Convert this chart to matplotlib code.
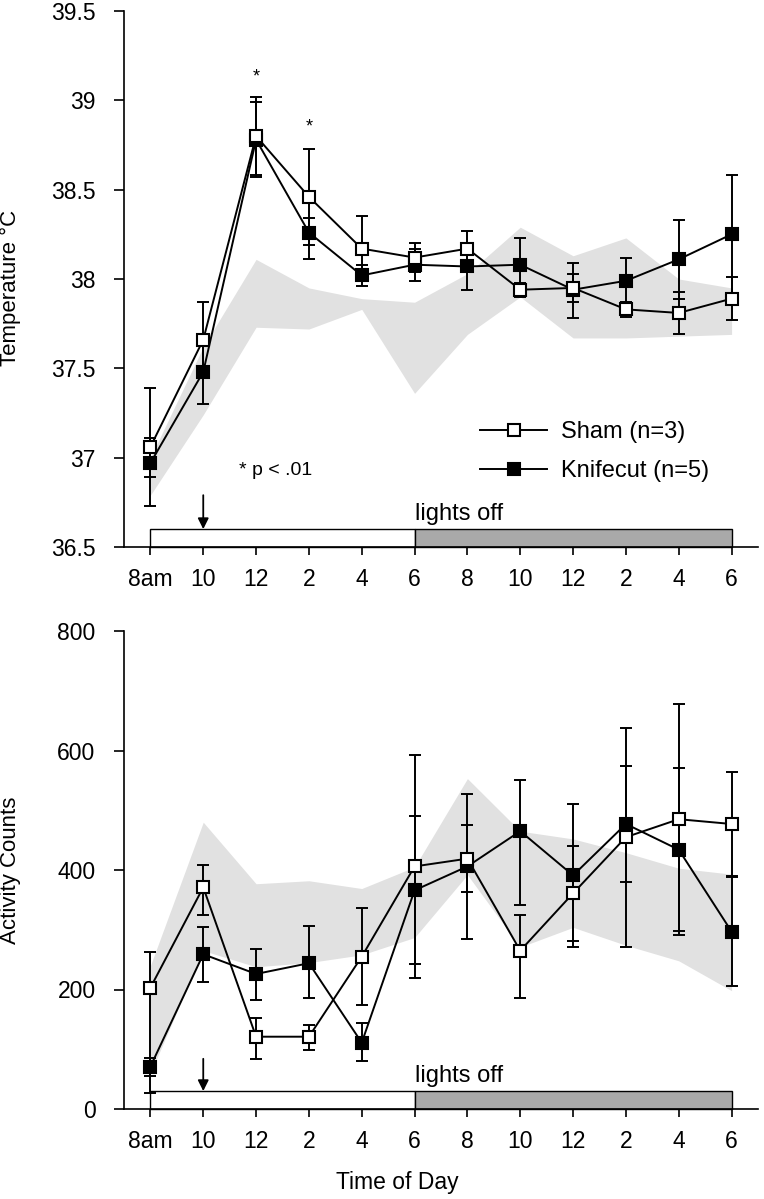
import matplotlib
matplotlib.use("Agg")
import matplotlib.pyplot as plt
from matplotlib.lines import Line2D
from matplotlib.patches import Rectangle
import numpy as np

plt.rcParams['font.family'] = ['Liberation Sans', 'DejaVu Sans']

# ---------------- data ----------------
time_labels = ['8am', '10', '12', '2', '4', '6', '8', '10', '12', '2', '4', '6']

temp_sham = [37.06, 37.66, 38.80, 38.46, 38.17, 38.12, 38.17, 37.94, 37.95, 37.83, 37.81, 37.89]
temp_sham_lo = [0.33, 0.21, 0.22, 0.27, 0.18, 0.08, 0.10, 0.04, 0.08, 0.04, 0.12, 0.12]
temp_sham_hi = [0.33, 0.21, 0.22, 0.27, 0.18, 0.08, 0.10, 0.04, 0.08, 0.04, 0.12, 0.12]

temp_knife = [36.97, 37.48, 38.78, 38.26, 38.02, 38.08, 38.07, 38.08, 37.94, 37.99, 38.11, 38.25]
temp_knife_lo = [0.08, 0.18, 0.21, 0.15, 0.06, 0.09, 0.13, 0.15, 0.16, 0.13, 0.22, 0.33]
temp_knife_hi = [0.14, 0.18, 0.21, 0.08, 0.06, 0.09, 0.13, 0.15, 0.15, 0.13, 0.22, 0.33]

temp_band_upper = [37.00, 37.62, 38.11, 37.95, 37.89, 37.87, 38.03, 38.29, 38.13, 38.23, 38.00, 37.95]
temp_band_lower = [36.79, 37.24, 37.73, 37.72, 37.83, 37.36, 37.69, 37.90, 37.67, 37.67, 37.68, 37.69]

act_sham = [203, 371, 121, 121, 255, 406, 419, 265, 361, 455, 485, 477]
act_sham_lo = [177, 46, 37, 23, 81, 186, 56, 79, 80, 184, 193, 87]
act_sham_hi = [60, 37, 32, 20, 82, 186, 56, 60, 80, 183, 193, 87]

act_knife = [71, 259, 226, 244, 111, 366, 406, 465, 391, 477, 434, 297]
act_knife_lo = [15, 46, 43, 59, 30, 123, 122, 123, 120, 97, 136, 91]
act_knife_hi = [15, 45, 41, 62, 33, 125, 122, 85, 120, 97, 136, 91]

act_band_upper = [240, 480, 377, 382, 369, 405, 553, 465, 452, 429, 403, 393]
act_band_lower = [60, 265, 238, 245, 258, 287, 392, 271, 304, 274, 248, 198]

lights_on_span = (0, 5)
lights_off_span = (5, 11)
arrow_x = 1

# ---------------- figure ----------------
W, H = 764, 1199
fig = plt.figure(figsize=(W / 100, H / 100), dpi=100)

def fx(px):
    return px / W

def fy(py):
    return 1 - py / H

ax1 = fig.add_axes([fx(124), fy(547), fx(758) - fx(124), fy(11) - fy(547)])
ax2 = fig.add_axes([fx(124), fy(1109), fx(758) - fx(124), fy(631) - fy(1109)])

x = np.arange(len(time_labels))
band_color = '#e1e1e1'
lw = 1.4
ms = 9.0
cap = 4.6
tick_fs = 16.5
label_fs = 16


def style_axis(ax):
    for s in ['top', 'right']:
        ax.spines[s].set_visible(False)
    for s in ['left', 'bottom']:
        ax.spines[s].set_linewidth(1.2)
    ax.tick_params(axis='x', direction='out', length=6, width=1.2, labelsize=tick_fs, pad=9)
    ax.tick_params(axis='y', direction='out', length=7.5, width=1.2, labelsize=tick_fs, pad=13)
    ax.set_xlim(-0.5, 11.5)
    ax.set_xticks(x)
    ax.set_xticklabels(time_labels)


def draw_series(ax, m, lo, hi, face):
    ax.errorbar(x, m, yerr=[lo, hi], fmt='none', ecolor='black', elinewidth=lw,
                capsize=cap, capthick=lw, zorder=3)
    ax.plot(x, m, '-', color='black', lw=lw, zorder=4)
    ax.plot(x, m, 's', ms=ms, mfc=face, mec='black', mew=1.5, zorder=5, linestyle='none')


# ---- top panel ----
style_axis(ax1)
ax1.set_ylim(36.5, 39.5)
ax1.set_yticks([36.5, 37, 37.5, 38, 38.5, 39, 39.5])
ax1.set_yticklabels(['36.5', '37', '37.5', '38', '38.5', '39', '39.5'])
ax1.fill_between(x, temp_band_lower, temp_band_upper, color=band_color, lw=0, zorder=1)
draw_series(ax1, temp_knife, temp_knife_lo, temp_knife_hi, 'black')
draw_series(ax1, temp_sham, temp_sham_lo, temp_sham_hi, 'white')
ax1.set_ylabel('Temperature °C', fontsize=label_fs)
ax1.yaxis.set_label_coords(-0.162, 0.483)

ax1.add_patch(Rectangle((lights_on_span[0], 36.5), lights_on_span[1] - lights_on_span[0], 0.1,
                        facecolor='white', edgecolor='black', lw=1.0, zorder=2, clip_on=False))
ax1.add_patch(Rectangle((lights_off_span[0], 36.5), lights_off_span[1] - lights_off_span[0], 0.1,
                        facecolor='#a9a9a9', edgecolor='black', lw=1.0, zorder=2, clip_on=False))
ax1.annotate('', xy=(arrow_x, 36.6), xytext=(arrow_x, 36.79),
             arrowprops=dict(arrowstyle='-|>', color='black', lw=1.3, mutation_scale=16,
                             shrinkA=0, shrinkB=0))
ax1.text(lights_off_span[0], 36.625, 'lights off', fontsize=17, ha='left', va='bottom')
ax1.text(2.37, 36.93, '* p < .01', fontsize=14, ha='center', va='center')
ax1.text(2, 39.13, '*', fontsize=13, ha='center', va='center')
ax1.text(3, 38.85, '*', fontsize=13, ha='center', va='center')

handles = [Line2D([], [], color='black', lw=lw, marker='s', ms=ms, mfc='white', mec='black', mew=1.5),
           Line2D([], [], color='black', lw=lw, marker='s', ms=ms, mfc='black', mec='black', mew=1.5)]
ax1.legend(handles, ['Sham (n=3)', 'Knifecut (n=5)'], loc='center left',
           bbox_to_anchor=(0.5615, 0.178), frameon=False, fontsize=17,
           handlelength=2.85, handletextpad=0.6, labelspacing=0.72,
           borderpad=0, borderaxespad=0)

# ---- bottom panel ----
style_axis(ax2)
ax2.set_ylim(0, 800)
ax2.set_yticks([0, 200, 400, 600, 800])
ax2.fill_between(x, act_band_lower, act_band_upper, color=band_color, lw=0, zorder=1)
draw_series(ax2, act_knife, act_knife_lo, act_knife_hi, 'black')
draw_series(ax2, act_sham, act_sham_lo, act_sham_hi, 'white')
ax2.set_ylabel('Activity Counts', fontsize=label_fs)
ax2.yaxis.set_label_coords(-0.162, 0.5)

ax2.add_patch(Rectangle((lights_on_span[0], 0), lights_on_span[1] - lights_on_span[0], 30,
                        facecolor='white', edgecolor='black', lw=1.0, zorder=2, clip_on=False))
ax2.add_patch(Rectangle((lights_off_span[0], 0), lights_off_span[1] - lights_off_span[0], 30,
                        facecolor='#a9a9a9', edgecolor='black', lw=1.0, zorder=2, clip_on=False))
ax2.annotate('', xy=(arrow_x, 30), xytext=(arrow_x, 84),
             arrowprops=dict(arrowstyle='-|>', color='black', lw=1.3, mutation_scale=16,
                             shrinkA=0, shrinkB=0))
ax2.text(lights_off_span[0], 36, 'lights off', fontsize=17, ha='left', va='bottom')

fig.text(fx(397), fy(1183), 'Time of Day', fontsize=16.5, ha='center', va='center')

fig.savefig('out.png', dpi=100)
